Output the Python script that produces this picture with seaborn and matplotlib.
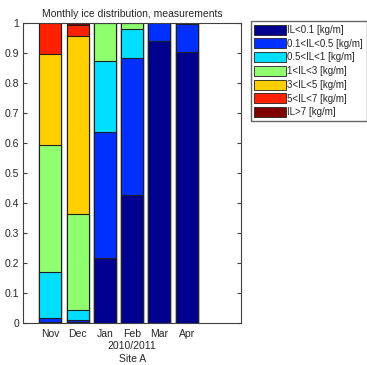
import matplotlib
matplotlib.use("Agg")
import matplotlib.pyplot as plt
import matplotlib.patches as mpatches
import numpy as np
import pandas as pd
import seaborn as sns

months = ["Nov", "Dec", "Jan", "Feb", "Mar", "Apr"]
classes = ["IL<0.1 [kg/m]", "0.1<IL<0.5 [kg/m]", "0.5<IL<1 [kg/m]", "1<IL<3 [kg/m]",
           "3<IL<5 [kg/m]", "5<IL<7 [kg/m]", "IL>7 [kg/m]"]
colors = ["#00008F", "#0030FF", "#00DFFF", "#8FFF6F", "#FFCF00", "#FF2000", "#800000"]

# fractions per class
il_01 = [0.003, 0.004, 0.218, 0.427, 0.940, 0.903]
il_05 = [0.014, 0.006, 0.418, 0.455, 0.060, 0.093]
il_1 = [0.153, 0.032, 0.237, 0.098, 0.000, 0.004]
il_3 = [0.425, 0.320, 0.127, 0.020, 0.000, 0.000]
il_5 = [0.303, 0.595, 0.000, 0.000, 0.000, 0.000]
il_7 = [0.102, 0.035, 0.000, 0.000, 0.000, 0.000]
il_gt7 = [0.000, 0.008, 0.000, 0.000, 0.000, 0.000]

sns.set_style("ticks")
plt.rcParams["font.family"] = ["Liberation Sans", "DejaVu Sans"]

fractions = np.array([il_01, il_05, il_1, il_3, il_5, il_7, il_gt7])
cumulative = np.cumsum(fractions, axis=0)

fig = plt.figure(figsize=(3.67, 3.65), dpi=100)
ax = fig.add_axes([0.063, 0.115, 0.594, 0.822])

# stacked bars: draw cumulative totals from the top class down
for i in range(len(classes) - 1, -1, -1):
    df = pd.DataFrame({"month": months, "value": cumulative[i]})
    sns.barplot(data=df, x="month", y="value", color=colors[i], saturation=1,
                width=0.8, edgecolor="#202020", linewidth=0.8, ax=ax)

ax.set_xlim(-1, 7)
ax.set_ylim(0, 1)
ax.set_yticks(np.arange(0, 1.01, 0.1))
ax.set_yticklabels(["0", "0.1", "0.2", "0.3", "0.4", "0.5", "0.6", "0.7", "0.8", "0.9", "1"])
ax.set_xlabel("2010/2011\nSite A", fontsize=7.5, labelpad=2, linespacing=1.3)
ax.set_ylabel("")
ax.set_title("Monthly ice distribution, measurements", fontsize=7.5, pad=4)
ax.tick_params(axis="both", labelsize=7.5, direction="in", length=3, color="#404040",
               right=True, top=False, pad=3)
ax.tick_params(axis="x", length=0, pad=4)
for s in ax.spines.values():
    s.set_visible(True)
    s.set_color("#404040")
    s.set_linewidth(0.8)

handles = [mpatches.Patch(facecolor=c, edgecolor="#202020", linewidth=0.6, label=l)
           for c, l in zip(colors, classes)]
fig.legend(handles=handles, loc="upper left", bbox_to_anchor=(0.684, 0.942),
           fontsize=7, frameon=True, fancybox=False, edgecolor="#404040",
           handlelength=3.2, handleheight=1.2, handletextpad=0.2, labelspacing=0.36,
           borderpad=0.35, borderaxespad=0)

fig.savefig("out.png", dpi=100)
